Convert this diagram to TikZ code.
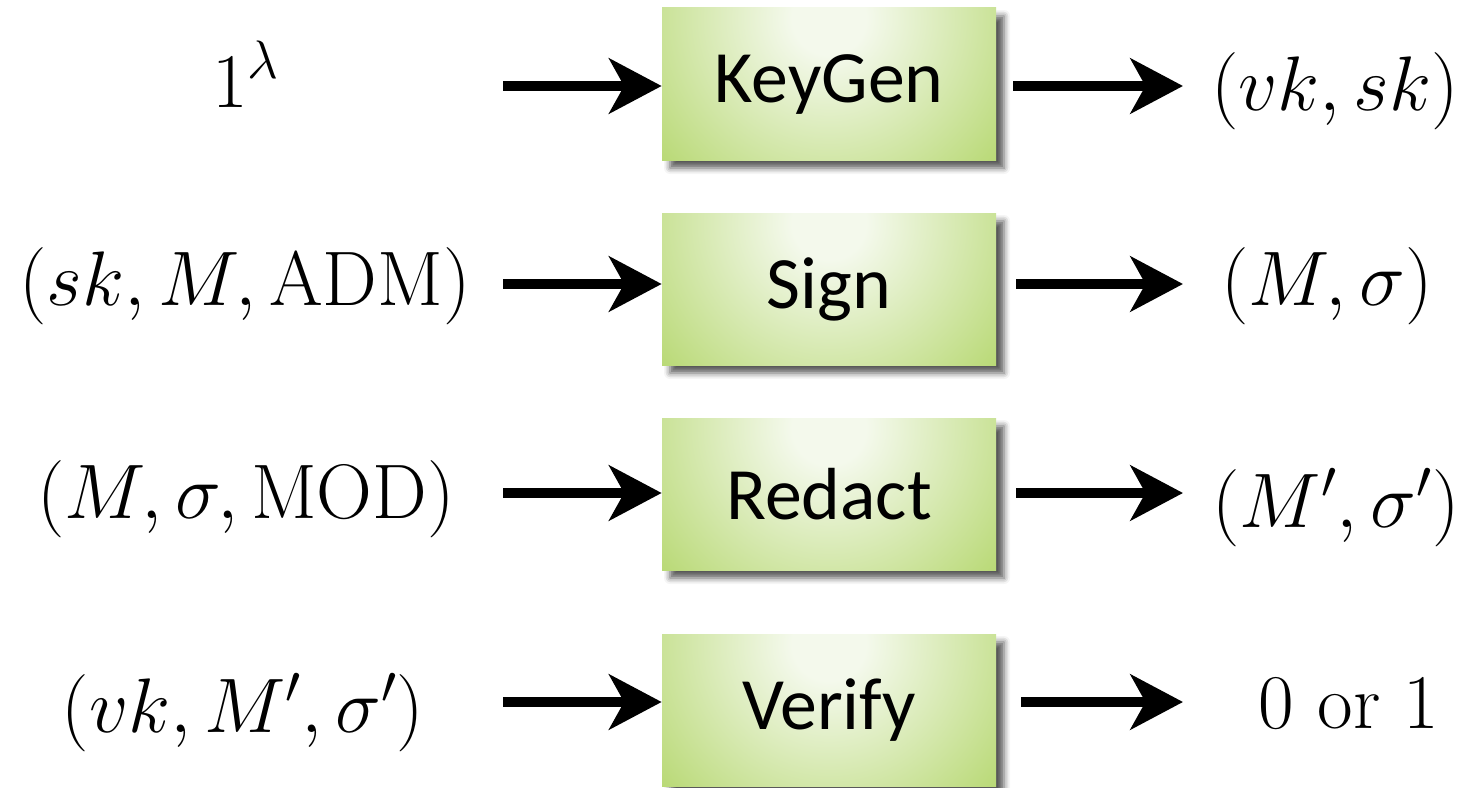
\RequirePackage{fix-cm}
\documentclass[tikz,border=0pt]{standalone}
\usepackage{fontspec}
\newfontfamily\boxfont{Carlito}
\usetikzlibrary{arrows.meta,shadows.blur}

\definecolor{boxlight}{RGB}{244,249,236}
\definecolor{boxdark}{RGB}{155,201,58}
\pgfdeclareradialshading{boxglow}{\pgfpoint{0bp}{0bp}}{color(0bp)=(boxlight); color(4bp)=(boxlight); color(34bp)=(boxdark); color(60bp)=(boxdark)}

\begin{document}
\begin{tikzpicture}[
	fnbox/.style={minimum width=6.68cm, minimum height=3.04cm, inner sep=0pt, font=\boxfont\fontsize{42}{50}\selectfont,
		blur shadow={shadow xshift=0.16cm, shadow yshift=-0.16cm, shadow blur radius=0.12cm, shadow opacity=65},
		path picture={
			\fill[boxdark] (path picture bounding box.south west) rectangle (path picture bounding box.north east);
			\shade[shading=boxglow] ([yshift=-0.2cm]path picture bounding box.north) circle (4.6cm);}},
	flow/.style={line width=0.2cm, -{Stealth[length=1.05cm, width=1.1cm, inset=0.3cm]}},
	io/.style={anchor=base, inner sep=0pt, font=\fontsize{44}{52}\selectfont}]
	\useasboundingbox (0,0) rectangle (29.58,-15.76);
	
	% Bốn khối thuật toán
	\node[fnbox] (keygen) at (16.58, -1.68) {KeyGen};
	\node[fnbox] (sign) at (16.58, -5.78) {Sign};
	\node[fnbox] (redact) at (16.58, -9.88) {Redact};
	\node[fnbox] (verify) at (16.58, -14.2) {Verify};
	
	% Đầu vào
	\node[io] (in1) at (4.92, -2.14) {$1^{\lambda}$};
	\node[io] (in2) at (4.9, -6.1) {$(sk, M, \mathrm{ADM})$};
	\node[io] (in3) at (4.92, -10.36) {$(M, \sigma, \mathrm{MOD})$};
	\node[io] (in4) at (4.86, -14.64) {$(vk, M', \sigma')$};
	
	% Đầu ra
	\node[io] (out1) at (26.7, -2.2) {$(vk, sk)$};
	\node[io] (out2) at (26.54, -6.1) {$(M, \sigma)$};
	\node[io] (out3) at (26.72, -10.54) {$(M', \sigma')$};
	\node[io] (out4) at (26.98, -14.56) {$0$ or $1$};
	
	% Mũi tên
	\coordinate (a1) at (10.06, -1.72);
	\coordinate (a2) at (10.06, -5.68);
	\coordinate (a3) at (10.06, -9.86);
	\coordinate (a4) at (10.06, -14.04);
	\coordinate (b1) at (23.66, -1.72);
	\coordinate (b2) at (23.66, -5.68);
	\coordinate (b3) at (23.66, -9.86);
	\coordinate (b4) at (23.66, -14.04);
	\draw[flow] (a1) -- (a1 -| keygen.west);
	\draw[flow] (a2) -- (a2 -| sign.west);
	\draw[flow] (a3) -- (a3 -| redact.west);
	\draw[flow] (a4) -- (a4 -| verify.west);
	\draw[flow, shorten <=0.34cm] (keygen.east |- b1) -- (b1);
	\draw[flow, shorten <=0.4cm] (sign.east |- b2) -- (b2);
	\draw[flow, shorten <=0.4cm] (redact.east |- b3) -- (b3);
	\draw[flow, shorten <=0.5cm] (verify.east |- b4) -- (b4);
	
\end{tikzpicture}
\end{document}
